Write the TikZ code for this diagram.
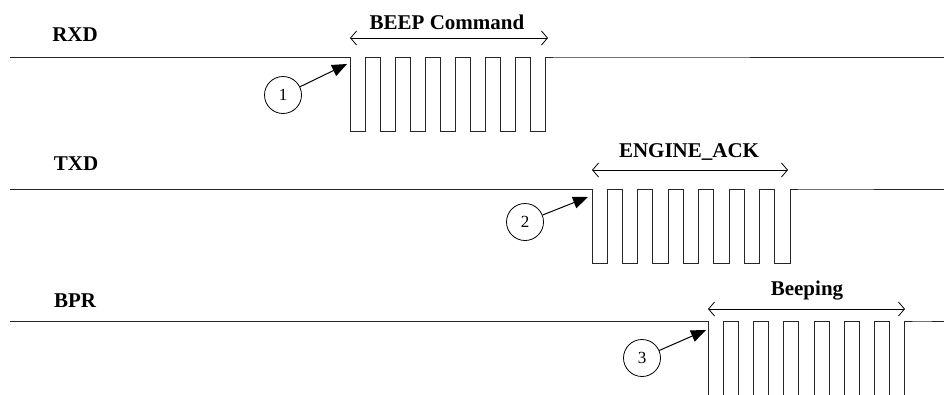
\documentclass[tikz,border=0pt]{standalone}
\usepackage{fontspec}
\setmainfont{Liberation Serif}
\usetikzlibrary{arrows.meta}
\begin{document}
\begin{tikzpicture}[x=1pt,y=-1pt,
  siglabel/.style={font=\fontsize{21}{25}\selectfont\bfseries, inner sep=0pt},
  spanlabel/.style={font=\fontsize{21}{25}\selectfont\bfseries, inner sep=0pt},
  numcircle/.style={draw, circle, line width=0.8pt, minimum size=37pt, inner sep=0pt, font=\fontsize{17}{20}\selectfont},
  wave/.style={line width=1pt, black!85},
  spanarrow/.style={line width=0.8pt, {Straight Barb[length=6pt,width=14pt]}-{Straight Barb[length=6pt,width=14pt]}},
  pointer/.style={line width=1pt, -{Triangle[length=15pt,width=12pt]}}
]
\useasboundingbox (0,0) rectangle (944,394);
\clip (0,0) rectangle (944,394);
\fill[white] (0,0) rectangle (944,394);

% RXD
\node[siglabel] (rxd) at (75,35) {RXD};
\draw[wave] (10,57) -- (350,57)
  \foreach \i in {1,...,7} { -- ++(0,74) -- ++(15,0) -- ++(0,-74) -- ++(15,0) } -- (944,57);
\coordinate (r0) at (350,38);
\coordinate (r1) at (548,38);
\draw[spanarrow] (r0) -- (r1);
\node[spanlabel] (beep) at (447,22) {BEEP Command};
\node[numcircle] (c1) at (283,95) {1};
\coordinate (p1) at (347,64);
\draw[pointer] (c1) -- (p1);

% TXD
\node[siglabel] (txd) at (76,164) {TXD};
\draw[wave] (10,189) -- (592,189)
  \foreach \i in {1,...,7} { -- ++(0,74) -- ++(15.23,0) -- ++(0,-74) -- ++(15.23,0) } -- (944,189);
\coordinate (t0) at (592,170);
\coordinate (t1) at (788,170);
\draw[spanarrow] (t0) -- (t1);
\node[spanlabel] (ack) at (689,152) {ENGINE\_ACK};
\node[numcircle] (c2) at (525,222) {2};
\coordinate (p2) at (588,197);
\draw[pointer] (c2) -- (p2);

% BPR
\node[siglabel] (bpr) at (75,301) {BPR};
\draw[wave] (10,321) -- (708,321)
  \foreach \i in {1,...,7} { -- ++(0,90) -- ++(15.15,0) -- ++(0,-90) -- ++(15.15,0) } -- (944,321);
\coordinate (b0) at (708,309);
\coordinate (b1) at (905,309);
\draw[spanarrow] (b0) -- (b1);
\node[spanlabel] (beeping) at (807,291) {Beeping};
\node[numcircle] (c3) at (642,358) {3};
\coordinate (p3) at (706,330);
\draw[pointer] (c3) -- (p3);
\end{tikzpicture}
\end{document}
